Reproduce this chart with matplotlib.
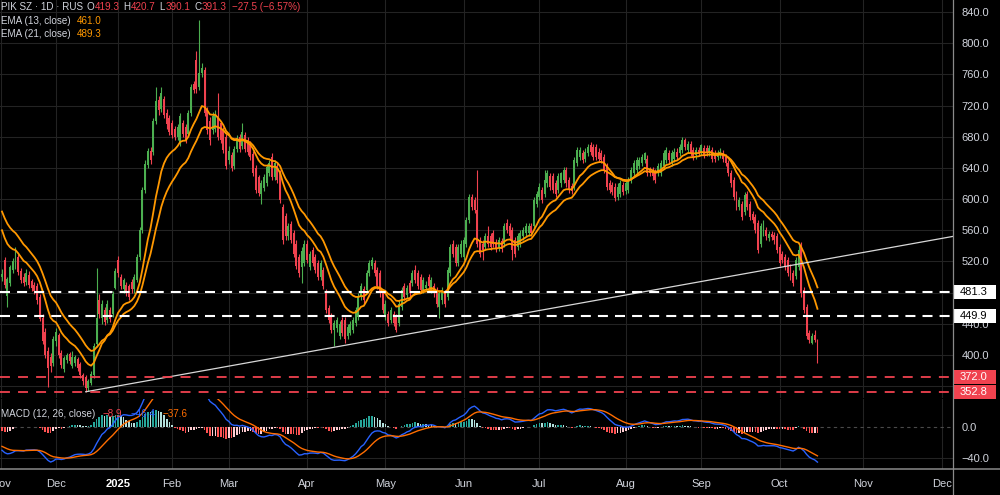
import numpy as np
import matplotlib
matplotlib.use("Agg")
import matplotlib.pyplot as plt
from matplotlib.patches import Rectangle
from matplotlib.lines import Line2D
from matplotlib.transforms import blended_transform_factory

plt.rcParams['font.family'] = ['Liberation Sans', 'DejaVu Sans']

# ---- daily candles, Nov 2024 .. mid Oct 2025 ----
opens = [
    # Nov
    500, 522, 476, 492, 509, 513, 526, 508, 500, 494, 503, 495, 490, 488, 475, 448, 430, 405, 398, 390,
    # Dec
    418, 425, 403, 382, 394, 401, 386, 390, 395, 388, 374, 372, 357, 364, 374, 414, 470, 447, 458, 445, 458, 452, 486,
    # Jan
    522, 500, 484, 490, 488, 494, 484, 496, 526, 560, 612, 644, 662, 660, 700, 727, 716, 728, 710, 704,
    # Feb
    698, 690, 680, 672, 698, 692, 684, 710, 748, 778, 744, 762, 766, 714, 700, 688, 690, 706, 697, 689, 680,
    # Mar
    650, 656, 642, 664, 680, 668, 682, 676, 670, 658, 640, 628, 606, 614, 621, 633, 654, 628, 642, 633,
    590, 578, 552, 568, 556, 543, 526, 513, 518,
    # Apr
    543, 513, 535, 526, 518, 500, 509, 479, 460, 450, 432, 434, 424, 445, 445, 424, 428, 432, 441, 449,
    475, 484, 483, 505, 514, 518, 509, 505, 479,
    # May
    449, 453, 445, 453, 449, 441, 462, 488, 477, 492, 492, 509, 505, 500, 483, 486, 500, 483, 488, 483,
    462, 470, 479, 475, 505, 543, 539, 518, 530,
    # Jun
    526, 543, 573, 603, 599, 586, 547, 543, 539, 552, 552, 556, 545, 538, 546, 543, 569, 565, 560, 547,
    539, 543, 552, 556, 557, 565, 565, 594,
    # Jul
    603, 612, 607, 620, 629, 629, 620, 612, 620, 624, 637, 624, 617, 616, 646, 654, 659, 652, 659, 669,
    667, 667, 661, 659, 654, 642, 620, 618, 616, 603, 607, 618,
    # Aug
    611, 612, 624, 633, 637, 642, 646, 650, 652, 637, 637, 635, 633, 633, 642, 650, 659, 646, 652, 661,
    659, 663, 676, 663, 671, 663, 656, 663,
    # Sep
    661, 665, 665, 659, 663, 659, 654, 657, 659, 654, 646, 633, 624, 607, 590, 594, 584, 607, 594, 581,
    577, 569, 543, 556, 560, 550, 555, 554, 552,
    # Oct
    539, 530, 526, 522, 513, 505, 501, 513, 541, 483, 462, 428, 416, 426, 419.3,
]
highs = [
    510, 526, 500, 516, 525, 539, 530, 512, 505, 510, 508, 498, 494, 492, 478, 452, 434, 410, 402, 424,
    434, 428, 406, 399, 403, 404, 405, 400, 398, 391, 377, 374, 369, 379, 416, 511, 478, 470, 462, 470, 462, 482, 512,
    527, 504, 499, 494, 491, 498, 504, 530, 564, 616, 650, 666, 667, 704, 744, 732, 744, 732, 716, 708,
    702, 694, 696, 710, 702, 696, 714, 748, 752, 790, 830, 775, 770, 718, 705, 712, 714, 736, 700, 692, 684,
    668, 660, 668, 682, 684, 697, 686, 680, 674, 662, 644, 631, 624, 632, 645, 650, 659, 650, 646, 637,
    594, 582, 569, 572, 560, 547, 530, 538, 547,
    547, 534, 539, 530, 522, 522, 513, 484, 464, 454, 445, 449, 444, 449, 449, 440, 444, 449, 462, 479,
    492, 488, 509, 522, 526, 522, 513, 509, 483,
    470, 457, 462, 457, 453, 470, 487, 492, 490, 496, 509, 515, 509, 504, 500, 495, 504, 500, 492, 487,
    483, 487, 483, 513, 543, 547, 543, 543, 547,
    551, 577, 607, 607, 603, 637, 551, 547, 556, 565, 556, 560, 549, 551, 550, 569, 575, 569, 564, 551,
    556, 560, 564, 569, 569, 569, 603, 611,
    620, 616, 637, 637, 633, 633, 624, 633, 635, 641, 641, 628, 621, 654, 667, 667, 663, 665, 671, 673,
    671, 671, 665, 663, 658, 646, 624, 622, 620, 620, 624, 622,
    624, 628, 641, 650, 654, 654, 658, 661, 656, 641, 641, 639, 646, 650, 663, 667, 663, 663, 665, 665,
    671, 680, 678, 675, 675, 667, 667, 667,
    671, 669, 669, 669, 667, 663, 663, 665, 663, 658, 650, 637, 628, 611, 603, 598, 609, 611, 598, 585,
    581, 573, 569, 573, 564, 559, 559, 558, 556,
    543, 534, 530, 526, 517, 509, 526, 541, 545, 487, 466, 432, 428, 432, 420.7,
]
lows = [
    495, 486, 462, 488, 505, 510, 503, 492, 488, 490, 486, 482, 478, 466, 443, 414, 396, 359, 378, 386,
    412, 396, 383, 378, 390, 388, 383, 386, 379, 370, 362, 353, 354, 361, 371, 410, 448, 440, 438, 441, 442, 449, 484,
    500, 485, 480, 476, 470, 480, 480, 493, 522, 556, 608, 640, 645, 656, 696, 708, 712, 704, 690, 682,
    678, 676, 676, 668, 680, 672, 680, 706, 736, 736, 740, 756, 706, 684, 670, 684, 686, 676, 672, 659, 638,
    645, 636, 638, 660, 660, 664, 660, 656, 650, 630, 608, 604, 594, 610, 617, 630, 624, 624, 620, 595,
    543, 548, 548, 544, 526, 510, 500, 492, 514,
    518, 509, 514, 505, 496, 496, 484, 454, 441, 428, 412, 430, 420, 424, 415, 420, 425, 428, 437, 445,
    471, 466, 479, 501, 510, 501, 484, 475, 454,
    445, 437, 441, 437, 430, 437, 458, 471, 473, 475, 488, 492, 484, 479, 479, 482, 484, 479, 475, 462,
    447, 466, 462, 471, 501, 526, 514, 514, 526,
    522, 539, 569, 586, 582, 539, 526, 522, 535, 539, 535, 539, 532, 534, 532, 539, 556, 548, 522, 526,
    535, 539, 548, 552, 553, 553, 561, 590,
    599, 595, 603, 616, 612, 608, 603, 608, 616, 620, 616, 608, 607, 612, 642, 650, 646, 648, 655, 657,
    650, 650, 648, 646, 633, 612, 608, 605, 597, 599, 603, 605,
    607, 608, 620, 629, 633, 638, 642, 646, 629, 629, 625, 620, 629, 629, 638, 646, 646, 642, 648, 650,
    655, 659, 663, 659, 655, 650, 652, 655,
    657, 653, 655, 655, 648, 648, 650, 653, 648, 642, 629, 616, 599, 586, 586, 573, 580, 586, 573, 569,
    556, 531, 539, 552, 548, 546, 547, 543, 531,
    514, 518, 509, 501, 496, 488, 497, 509, 475, 454, 420, 416, 414, 417, 390.1,
]
closes = [
    504, 490, 497, 513, 520, 528, 506, 496, 492, 505, 490, 486, 482, 470, 446, 418, 400, 383, 386, 420,
    430, 400, 387, 396, 400, 392, 398, 397, 383, 374, 366, 357, 366, 376, 412, 448, 452, 466, 442, 466, 446, 478, 508,
    505, 488, 496, 479, 474, 484, 500, 526, 560, 612, 645, 662, 650, 700, 726, 714, 736, 708, 696, 686,
    682, 680, 692, 706, 684, 676, 710, 744, 740, 741, 762, 768, 711, 689, 676, 706, 708, 680, 676, 663, 642,
    662, 640, 664, 678, 664, 686, 664, 660, 654, 634, 612, 608, 620, 628, 641, 646, 628, 646, 625, 599,
    548, 552, 565, 548, 530, 514, 505, 534, 543,
    522, 530, 518, 509, 500, 518, 488, 458, 445, 432, 441, 445, 440, 428, 420, 436, 440, 445, 458, 475,
    488, 470, 505, 518, 522, 505, 488, 479, 458,
    466, 441, 458, 441, 432, 466, 483, 475, 486, 479, 505, 496, 488, 483, 496, 490, 488, 496, 479, 466,
    479, 483, 466, 509, 539, 530, 518, 539, 543,
    547, 573, 603, 590, 586, 543, 530, 535, 552, 543, 539, 543, 536, 547, 536, 565, 560, 552, 535, 530,
    552, 556, 560, 565, 565, 557, 599, 607,
    616, 599, 624, 633, 616, 612, 607, 629, 633, 637, 620, 612, 611, 650, 663, 663, 650, 661, 667, 661,
    654, 654, 652, 650, 637, 616, 612, 609, 601, 616, 620, 609,
    620, 624, 637, 646, 650, 650, 654, 659, 633, 633, 629, 624, 642, 646, 659, 663, 650, 659, 661, 654,
    667, 676, 667, 671, 659, 654, 663, 659,
    669, 657, 659, 665, 652, 652, 659, 661, 652, 646, 633, 620, 603, 590, 599, 577, 605, 590, 577, 573,
    560, 535, 565, 569, 552, 555, 551, 547, 535,
    518, 522, 513, 505, 500, 492, 522, 535, 479, 458, 424, 419, 424, 418.8, 391.3,
]

# month starts (bar index) and their labels
month_start = [-0.5, 20, 43, 63, 84, 113, 142, 171, 199, 231, 259, 288, 319, 348]
month_labels = ['Nov', 'Dec', '2025', 'Feb', 'Mar', 'Apr', 'May', 'Jun',
                'Jul', 'Aug', 'Sep', 'Oct', 'Nov', 'Dec']

# price scale labels (360 and 480 sit under the level tags)
price_ticks = [400, 440, 520, 560, 600, 640, 680, 720, 760, 800, 840]
hidden_grid = [360, 480]

# drawn levels and trend line
levels_white = [481.3, 449.9]
levels_red = [372.0, 352.8]
trend_x = [31, 352]
trend_y = [352.8, 552.0]

# indicator values at the left edge (history before the window)
ema13_start, ema21_start = 560.0, 584.0
ema12_start, ema26_start, signal_start = 557.0, 587.0, -25.0

GREEN = '#4CAF50'
RED = '#F0424F'
ORANGE = '#FF9800'
TXT = '#d1d4dc'
GRID = '#232323'


def ema(values, n, seed):
    a = 2.0 / (n + 1)
    out = [seed]
    for v in values[1:]:
        out.append(out[-1] + a * (v - out[-1]))
    return np.array(out)


o, h, l, c = (np.array(v, dtype=float) for v in (opens, highs, lows, closes))
x = np.arange(len(c))

ema13 = ema(c, 13, ema13_start)
ema21 = ema(c, 21, ema21_start)
macd = ema(c, 12, ema12_start) - ema(c, 26, ema26_start)
signal = ema(macd, 9, signal_start)
hist = macd - signal

W, H = 1000, 495
fig = plt.figure(figsize=(W / 100, H / 100), dpi=100, facecolor='black')
ax = fig.add_axes([0, 97 / H, 953 / W, 398 / H], facecolor='black')
ax2 = fig.add_axes([0, 26 / H, 953 / W, 70 / H], facecolor='black', sharex=ax)

# ---- price pane ----
col = np.where(c >= o, GREEN, RED)
ax.vlines(x, l, h, colors=col, lw=0.8, zorder=3)
ax.bar(x, c - o, bottom=o, width=0.7, color=col, lw=0, zorder=4)
ax.plot(x, ema13, color=ORANGE, lw=1.3, zorder=5)
ax.plot(x, ema21, color=ORANGE, lw=1.3, zorder=5)
ax.plot(trend_x, trend_y, color='#d8d8d8', lw=0.9, zorder=6)
for v in levels_white:
    ax.axhline(v, color='white', lw=1.5, ls=(0, (4.8, 3.4)), zorder=6)
for v in levels_red:
    ax.axhline(v, color=RED, lw=1.3, ls=(0, (5.5, 4.5)), zorder=6)
for v in hidden_grid:
    ax.axhline(v, color=GRID, lw=0.8, zorder=0)

ax.set_xlim(-0.74, 352.2)
ax.set_ylim(344.8, 855.4)
ax.set_yticks(price_ticks)
ax.yaxis.set_major_formatter(lambda v, p: f'{v:.1f}')
ax.yaxis.tick_right()
ax.tick_params(axis='y', length=0, pad=6, labelsize=8, labelcolor=TXT)
ax.set_xticks(month_start)
ax.tick_params(axis='x', length=0, labelbottom=False)
ax.grid(True, color=GRID, lw=0.8)
ax.set_axisbelow(True)
for s in ax.spines.values():
    s.set_visible(False)


def price_tag(axis, value, face, tcolor):
    tr = blended_transform_factory(axis.transAxes, axis.transData)
    half = 7 / 0.7795
    axis.add_patch(Rectangle((1.0, value - half), 43 / 953, 2 * half, transform=tr,
                             facecolor=face, edgecolor='none', clip_on=False, zorder=7))
    axis.text(1.0 + 7 / 953, value, f'{value:.1f}', transform=tr, color=tcolor,
              fontsize=8, va='center', ha='left', zorder=8, clip_on=False)


for v in levels_white:
    price_tag(ax, v, 'white', 'black')
for v in levels_red:
    price_tag(ax, v, RED, 'white')

# ---- MACD pane ----
prev = np.concatenate([[hist[0]], hist[:-1]])
hcol = np.where(hist >= 0,
                np.where(hist > prev, '#26A69A', '#B2DFDB'),
                np.where(hist > prev, '#FFCDD2', '#FF5252'))
ax2.bar(x, hist, width=0.6, color=hcol, lw=0, zorder=3)
ax2.plot(x, macd, color='#2962FF', lw=1.0, zorder=4)
ax2.plot(x, signal, color='#FF6D00', lw=1.0, zorder=4)
ax2.axhline(0, color='#4a4a4a', lw=0.8, ls=(0, (3, 3)), zorder=2)
ax2.set_ylim(-54.2, 36.1)
ax2.set_yticks([-40, 0])
ax2.yaxis.set_major_formatter(lambda v, p: f'{v:.1f}'.replace('-', '\u2212'))
ax2.yaxis.tick_right()
ax2.tick_params(axis='y', length=0, pad=6, labelsize=8, labelcolor=TXT)
ax2.set_xticks(month_start, month_labels)
ax2.tick_params(axis='x', length=0, pad=7, labelsize=8, labelcolor=TXT)
for lbl in ax2.get_xticklabels():
    if lbl.get_text() == '2025':
        lbl.set_fontweight('bold')
        lbl.set_color('white')
ax2.grid(True, color=GRID, lw=0.8)
ax2.yaxis.grid(False)
ax2.axhline(-40, color=GRID, lw=0.8, zorder=1)
ax2.set_axisbelow(True)
for s in ax2.spines.values():
    s.set_visible(False)

# separators
fig.add_artist(Line2D([953 / W, 953 / W], [0, 1], color='#8a8a8a', lw=0.9))
fig.add_artist(Line2D([0, 1], [26 / H, 26 / H], color='#8a8a8a', lw=1.1))

# ---- legends ----
renderer = fig.canvas.get_renderer()


def text_run(x_px, y_px, parts, size=7.1):
    for s, colr, gap in parts:
        t = fig.text(x_px / W, 1 - y_px / H, s, color=colr, fontsize=size,
                     va='center', ha='left', zorder=10)
        x_px += t.get_window_extent(renderer).width + gap


text_run(1, 7, [('PIK SZ \u00b7 1D \u00b7 RUS', TXT, 3), ('O', TXT, 0.5), ('419.3', RED, 4),
                ('H', TXT, 0.5), ('420.7', RED, 4), ('L', TXT, 0.5), ('390.1', RED, 4),
                ('C', TXT, 0.5), ('391.3', RED, 5), ('\u221227.5 (\u22126.57%)', RED, 0)])
text_run(1, 21, [('EMA (13, close)', TXT, 6), ('461.0', ORANGE, 0)])
text_run(1, 34, [('EMA (21, close)', TXT, 6), ('489.3', ORANGE, 0)])
text_run(1, 414, [('MACD (12, 26, close)', TXT, 7), ('\u22128.9', RED, 9),
                  ('\u221246.4', '#2962FF', 7), ('\u221237.6', '#FF6D00', 0)])

fig.savefig('out.png', dpi=100, facecolor='black')
